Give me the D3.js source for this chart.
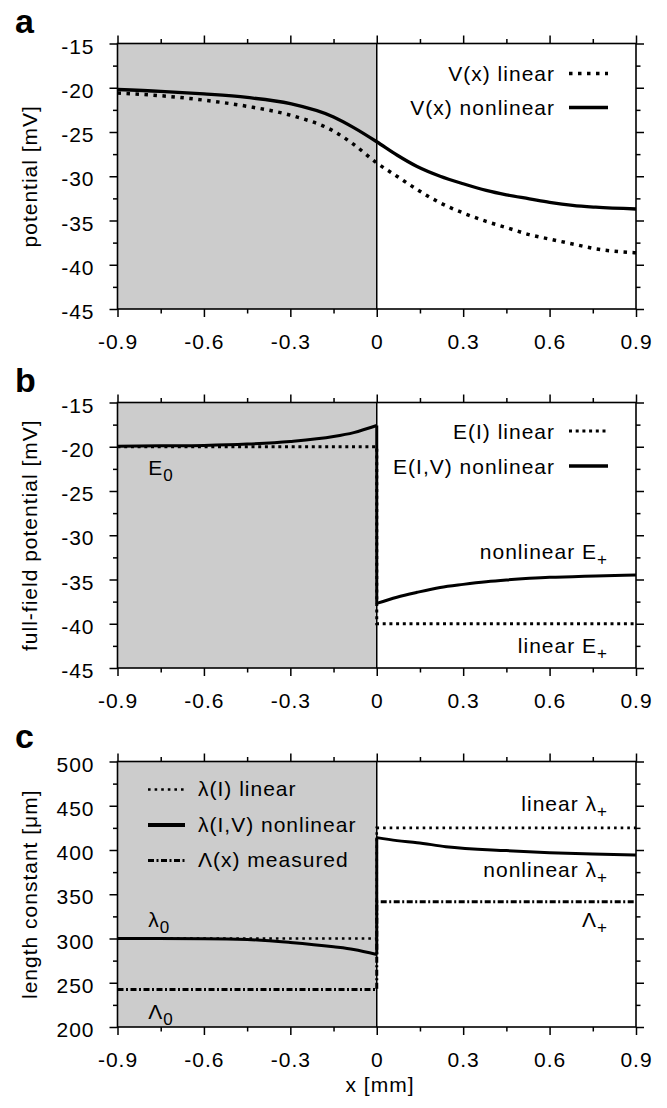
<!DOCTYPE html>
<html>
<head>
<meta charset="utf-8">
<script src="https://cdnjs.cloudflare.com/ajax/libs/d3/7.8.5/d3.min.js"></script>
<style>
body { margin: 0; background: #fff; }
svg text { font-family: "Liberation Sans", Arial, Helvetica, sans-serif; font-size: 21px; letter-spacing: 1px; fill: #000; }
svg text.letter { font-size: 34px; font-weight: bold; letter-spacing: 0; }
</style>
</head>
<body>
<script>
// ---- ticks ----
var xTicks = [-0.9, -0.6, -0.3, 0, 0.3, 0.6, 0.9];
var xMinor = [-0.75, -0.45, -0.15, 0.15, 0.45, 0.75];
var vTicks = [-45, -40, -35, -30, -25, -20, -15];
var vMinor = [-42.5, -37.5, -32.5, -27.5, -22.5, -17.5];
var lTicks = [200, 250, 300, 350, 400, 450, 500];
var lMinor = [225, 275, 325, 375, 425, 475];

// ---- panel a : potential ----
var aX = [-0.9, -0.75, -0.6, -0.45, -0.3, -0.15, -0.08, 0, 0.07, 0.14, 0.22, 0.3, 0.38, 0.45, 0.53, 0.6, 0.68, 0.76, 0.9];
var aNonlinear = [-20.2, -20.4, -20.7, -21.1, -21.8, -23.3, -24.5, -26.1, -27.6, -28.9, -30.0, -30.85, -31.6, -32.1, -32.55, -32.95, -33.3, -33.5, -33.7];
var aLinear = [-20.6, -20.9, -21.4, -22.1, -23.1, -24.9, -26.4, -28.5, -30.0, -31.5, -33.0, -34.15, -35.1, -35.8, -36.6, -37.1, -37.65, -38.2, -38.65];

// ---- panel b : full-field potential ----
var bXLeft = [-0.9, -0.75, -0.6, -0.45, -0.3, -0.15, -0.08, 0];
var bNonLeft = [-19.95, -19.9, -19.85, -19.7, -19.4, -18.85, -18.4, -17.6];
var bXRight = [0, 0.07, 0.14, 0.22, 0.3, 0.38, 0.45, 0.53, 0.6, 0.68, 0.76, 0.9];
var bNonRight = [-37.7, -37.0, -36.45, -35.9, -35.55, -35.25, -35.05, -34.87, -34.75, -34.68, -34.6, -34.48];
var bLinear = [-20, -40];   // E0, linear E+

// ---- panel c : length constant ----
var cXLeft = [-0.9, -0.6, -0.45, -0.3, -0.15, -0.08, 0];
var cNonLeft = [300, 299.8, 298.9, 295.5, 290.6, 287.6, 282];
var cXRight = [0, 0.07, 0.14, 0.24, 0.45, 0.6, 0.75, 0.9];
var cNonRight = [414, 410.6, 408.3, 403.8, 399.3, 397, 395.5, 394.4];
var cLinear = [300, 425];      // lambda0, linear lambda+
var cMeasured = [242.3, 341.5]; // Lambda0, Lambda+

var svg = d3.select('body').append('svg')
    .attr('width', 667)
    .attr('height', 1108);

var left = 117.5, plotW = 518.5, plotH = 265.5;
var x = d3.scaleLinear().domain([-0.9, 0.9]).range([0, plotW]);

function axis(g, gen, transform) {
    var a = g.append('g').attr('transform', transform || null).call(gen);
    a.select('.domain').remove();
    a.selectAll('.tick line').attr('stroke', '#000').attr('stroke-width', 1.5);
    return a;
}

function makePanel(top, domain, ticks, minor, title, letter, letterY) {
    var g = svg.append('g').attr('transform', 'translate(' + left + ',' + top + ')');
    var y = d3.scaleLinear().domain(domain).range([plotH, 0]);

    // shaded region x < 0
    g.append('rect')
        .attr('x', x(-0.9)).attr('y', 0)
        .attr('width', x(0) - x(-0.9)).attr('height', plotH)
        .attr('fill', '#cccccc');
    g.append('line')
        .attr('x1', x(0)).attr('x2', x(0))
        .attr('y1', 0).attr('y2', plotH)
        .attr('stroke', '#000').attr('stroke-width', 1.5);

    var marks = g.append('g');

    // frame
    g.append('rect')
        .attr('width', plotW).attr('height', plotH)
        .attr('fill', 'none').attr('stroke', '#000').attr('stroke-width', 1.6);

    // major / minor ticks on all four sides
    axis(g, d3.axisBottom(x).tickValues(xTicks).tickSize(8).tickPadding(17).tickFormat(String), 'translate(0,' + plotH + ')');
    axis(g, d3.axisBottom(x).tickValues(xMinor).tickSize(4.5).tickFormat(''), 'translate(0,' + plotH + ')');
    axis(g, d3.axisTop(x).tickValues(xTicks).tickSize(8).tickFormat(''));
    axis(g, d3.axisTop(x).tickValues(xMinor).tickSize(4.5).tickFormat(''));
    var yl = axis(g, d3.axisLeft(y).tickValues(ticks).tickSize(8).tickPadding(15).tickFormat(String));
    yl.selectAll('.tick text').attr('dy', '0.46em');
    axis(g, d3.axisLeft(y).tickValues(minor).tickSize(4.5).tickFormat(''));
    axis(g, d3.axisRight(y).tickValues(ticks).tickSize(8).tickFormat(''), 'translate(' + plotW + ',0)');
    axis(g, d3.axisRight(y).tickValues(minor).tickSize(4.5).tickFormat(''), 'translate(' + plotW + ',0)');

    // axis title
    g.append('text')
        .attr('transform', 'translate(-80.5,' + (plotH / 2) + ') rotate(-90)')
        .attr('text-anchor', 'middle')
        .text(title);

    g.append('text').attr('class', 'letter')
        .attr('x', -102.5).attr('y', letterY)
        .text(letter);

    return { g: g, y: y, marks: marks };
}

function curve(p) {
    return d3.line()
        .x(function (d) { return x(d[0]); })
        .y(function (d) { return p.y(d[1]); })
        .curve(d3.curveMonotoneX);
}
function straight(p) {
    return d3.line()
        .x(function (d) { return x(d[0]); })
        .y(function (d) { return p.y(d[1]); });
}

// step series: constant level on each side, jump at x = 0
function stepPts(levels) {
    return [[-0.9, levels[0]], [0, levels[0]], [0, levels[1]], [0.9, levels[1]]];
}

// jump series: left curve, vertical drop, right curve
function drawJump(p, xl, yl, xr, yr, w) {
    var L = d3.zip(xl, yl), R = d3.zip(xr, yr);
    p.marks.append('path').attr('d', curve(p)(L)).attr('fill', 'none').attr('stroke', '#000').attr('stroke-width', w);
    p.marks.append('path').attr('d', straight(p)([L[L.length - 1], R[0]])).attr('fill', 'none').attr('stroke', '#000').attr('stroke-width', w);
    p.marks.append('path').attr('d', curve(p)(R)).attr('fill', 'none').attr('stroke', '#000').attr('stroke-width', w);
}

function label(g, px, py, main, sub, anchor) {
    var t = g.append('text').attr('x', px).attr('y', py).attr('text-anchor', anchor || 'start');
    t.append('tspan').text(main);
    if (sub) {
        t.append('tspan').attr('dy', 6).style('font-size', '17px').text(sub);
    }
    return t;
}

function legendRow(g, by, text, dash, w) {
    g.append('text').attr('x', 437.5).attr('y', by).attr('text-anchor', 'end').text(text);
    g.append('line')
        .attr('x1', 451.5).attr('x2', 490.5)
        .attr('y1', by - 7.5).attr('y2', by - 7.5)
        .attr('stroke', '#000').attr('stroke-width', w)
        .attr('stroke-dasharray', dash);
}

// ================= panel a =================
var pa = makePanel(43.5, [-45, -15], vTicks, vMinor, 'potential [mV]', 'a', -10.5);
pa.marks.append('path')
    .attr('d', curve(pa)(d3.zip(aX, aLinear)))
    .attr('fill', 'none').attr('stroke', '#000').attr('stroke-width', 3.5)
    .attr('stroke-dasharray', '3.5 5.5');
pa.marks.append('path')
    .attr('d', curve(pa)(d3.zip(aX, aNonlinear)))
    .attr('fill', 'none').attr('stroke', '#000').attr('stroke-width', 3.3);
legendRow(pa.g, 37.5, 'V(x) linear', '3.5 5.5', 3.5);
legendRow(pa.g, 71.5, 'V(x) nonlinear', null, 3.5);

// ================= panel b =================
var pb = makePanel(402.5, [-45, -15], vTicks, vMinor, 'full-field potential [mV]', 'b', -11);
pb.marks.append('path')
    .attr('d', straight(pb)(stepPts(bLinear)))
    .attr('fill', 'none').attr('stroke', '#000').attr('stroke-width', 3)
    .attr('stroke-dasharray', '3 3.7');
drawJump(pb, bXLeft, bNonLeft, bXRight, bNonRight, 3);
legendRow(pb.g, 36, 'E(I) linear', '3 3.7', 3);
legendRow(pb.g, 71, 'E(I,V) nonlinear', null, 3.5);
label(pb.g, 30.8, 72.5, 'E', '0');
label(pb.g, 490.5, 156.8, 'nonlinear E', '+', 'end');
label(pb.g, 490.5, 250.2, 'linear E', '+', 'end');

// ================= panel c =================
var pc = makePanel(761.5, [200, 500], lTicks, lMinor, 'length constant [\u03bcm]', 'c', -13.5);
pc.marks.append('path')
    .attr('d', straight(pc)(stepPts(cLinear)))
    .attr('fill', 'none').attr('stroke', '#000').attr('stroke-width', 2.6)
    .attr('stroke-dasharray', '2.6 4');
pc.marks.append('path')
    .attr('d', straight(pc)(stepPts(cMeasured)))
    .attr('fill', 'none').attr('stroke', '#000').attr('stroke-width', 3)
    .attr('stroke-dasharray', '6 2.5 2 2.5');
drawJump(pc, cXLeft, cNonLeft, cXRight, cNonRight, 3);

var cLegend = [
    { text: '\u03bb(I) linear', dash: '2.6 4', w: 2.6 },
    { text: '\u03bb(I,V) nonlinear', dash: null, w: 3.8 },
    { text: '\u039b(x) measured', dash: '6 2.5 2 2.5', w: 3 }
];
cLegend.forEach(function (d, i) {
    var by = 34.5 + i * 35.5;
    pc.g.append('line')
        .attr('x1', 30.5).attr('x2', 67.5)
        .attr('y1', by - 6.5).attr('y2', by - 6.5)
        .attr('stroke', '#000').attr('stroke-width', d.w)
        .attr('stroke-dasharray', d.dash);
    pc.g.append('text').attr('x', 80.5).attr('y', by).text(d.text);
});
label(pc.g, 30.8, 165.3, '\u03bb', '0');
label(pc.g, 30.8, 257.6, '\u039b', '0');
label(pc.g, 490.5, 49.3, 'linear \u03bb', '+', 'end');
label(pc.g, 490.5, 115, 'nonlinear \u03bb', '+', 'end');
label(pc.g, 490.5, 165, '\u039b', '+', 'end');

// x axis title
pc.g.append('text')
    .attr('x', 262.5).attr('y', 330.5)
    .attr('text-anchor', 'middle')
    .text('x [mm]');
</script>
</body>
</html>
